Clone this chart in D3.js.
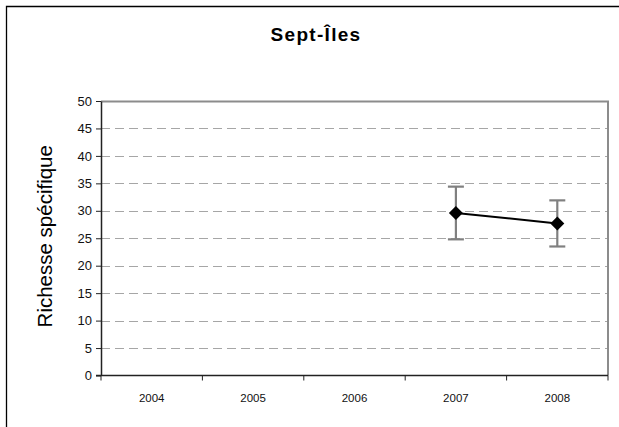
<!DOCTYPE html>
<html>
<head>
<meta charset="utf-8">
<script src="https://cdn.jsdelivr.net/npm/d3@7/dist/d3.min.js"></script>
<style>
  html, body { margin: 0; padding: 0; background: #fff; overflow: hidden; width: 619px; height: 427px; }
  svg { display: block; font-family: "Liberation Sans", Arial, sans-serif; }
</style>
</head>
<body>
<svg id="chart" width="619" height="427" viewBox="0 0 619 427"></svg>
<script>
// Species richness per year at Sept-Îles, with error bars
const years = ["2004", "2005", "2006", "2007", "2008"];
const richness = [null, null, null, 29.6, 27.7];
const errors = [null, null, null, 4.8, 4.2];
const yTicks = [0, 5, 10, 15, 20, 25, 30, 35, 40, 45, 50];
const chartTitle = "Sept-Îles";
const yLabel = "Richesse spécifique";

const svg = d3.select("#chart");
const W = 619, H = 427;
const plot = { left: 101, right: 608, top: 101, bottom: 375.5 };

// white chart background
svg.append("rect").attr("width", W).attr("height", H).attr("fill", "#fff");

// outer chart frame (left and top edges fall inside the page)
svg.append("path")
  .attr("d", `M6.5,${H}V6.5H${W}`)
  .attr("fill", "none").attr("stroke", "#000").attr("stroke-width", 1.3);

const x = d3.scaleBand().domain(years).range([plot.left, plot.right]);
const y = d3.scaleLinear().domain([0, 50]).range([plot.bottom, plot.top]);

// dashed horizontal gridlines
svg.append("g").selectAll("line")
  .data(yTicks.filter(t => t > 0 && t < 50))
  .join("line")
  .attr("x1", plot.left).attr("x2", plot.right)
  .attr("y1", d => Math.round(y(d)) + 0.5).attr("y2", d => Math.round(y(d)) + 0.5)
  .attr("stroke", "#a6a6a6").attr("stroke-width", 1)
  .attr("stroke-dasharray", "9,5");

// plot area border (top and right in grey)
svg.append("path")
  .attr("d", `M${plot.left},${plot.top + 0.5}H${plot.right}V${plot.bottom}`)
  .attr("fill", "none").attr("stroke", "#8c8c8c").attr("stroke-width", 2);

// y axis
const yAxis = d3.axisLeft(y).tickValues(yTicks).tickSize(5).tickPadding(4).tickSizeOuter(0);
const gy = svg.append("g").attr("transform", `translate(${plot.left},0)`).call(yAxis);
gy.select(".domain").attr("stroke", "#222").attr("stroke-width", 1.5);
gy.selectAll(".tick line").attr("stroke", "#222");
gy.selectAll(".tick text").attr("font-size", 13).attr("fill", "#111")
  .attr("font-family", "Liberation Sans, Arial, sans-serif");

// x axis with ticks between categories
const gx = svg.append("g").attr("transform", `translate(0,${plot.bottom})`);
gx.append("line").attr("x1", plot.left - 5).attr("x2", plot.right)
  .attr("stroke", "#222").attr("stroke-width", 1.5);
const bounds = years.map(d => x(d)).concat([plot.right]);
gx.selectAll("line.tk").data(bounds).join("line").attr("class", "tk")
  .attr("x1", d => d).attr("x2", d => d).attr("y1", 0).attr("y2", 5)
  .attr("stroke", "#222");
gx.selectAll("text").data(years).join("text")
  .attr("x", d => x(d) + x.bandwidth() / 2).attr("y", 26)
  .attr("text-anchor", "middle").attr("font-size", 11.5).attr("fill", "#111")
  .text(d => d);

// data series
const pts = years.map((yr, i) => ({ yr, v: richness[i], e: errors[i] })).filter(d => d.v != null);
const cx = d => x(d.yr) + x.bandwidth() / 2;

// error bars
const eb = svg.append("g").attr("stroke", "#808080").attr("stroke-width", 2.2);
pts.forEach(d => {
  eb.append("line").attr("x1", cx(d)).attr("x2", cx(d))
    .attr("y1", y(d.v + d.e)).attr("y2", y(d.v - d.e));
  [d.v + d.e, d.v - d.e].forEach(v => {
    eb.append("line").attr("x1", cx(d) - 8).attr("x2", cx(d) + 8)
      .attr("y1", y(v)).attr("y2", y(v));
  });
});

// connecting line
svg.append("path").datum(pts)
  .attr("d", d3.line().x(cx).y(d => y(d.v)))
  .attr("fill", "none").attr("stroke", "#000").attr("stroke-width", 2);

// diamond markers
svg.append("g").selectAll("path").data(pts).join("path")
  .attr("transform", d => `translate(${cx(d)},${y(d.v)})`)
  .attr("d", "M0,-7L7,0L0,7L-7,0Z")
  .attr("fill", "#000");

// title
svg.append("text")
  .attr("x", 316).attr("y", 41)
  .attr("text-anchor", "middle").attr("font-size", 19).attr("font-weight", "bold")
  .attr("letter-spacing", 1.3)
  .text(chartTitle);

// y axis label
svg.append("text")
  .attr("transform", `translate(52,${(plot.top + plot.bottom) / 2 - 2}) rotate(-90)`)
  .attr("text-anchor", "middle").attr("font-size", 20.5)
  .text(yLabel);
</script>
</body>
</html>
